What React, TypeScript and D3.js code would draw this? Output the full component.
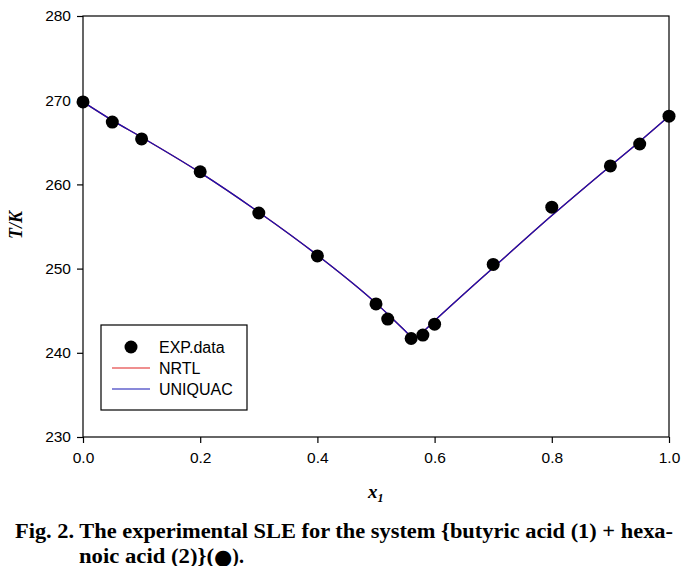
import { useEffect, useRef } from "react";
import * as d3 from "d3";

// experimental SLE points
const expX = [0.0, 0.05, 0.1, 0.2, 0.3, 0.4, 0.5, 0.52, 0.56, 0.58, 0.6, 0.7, 0.8, 0.9, 0.95, 1.0];
const expT = [269.8, 267.4, 265.4, 261.5, 256.6, 251.5, 245.8, 244.0, 241.7, 242.1, 243.4, 250.5, 257.3, 262.2, 264.8, 268.1];

// model curves (NRTL and UNIQUAC almost coincide)
const modelX = [0.0, 0.05, 0.1, 0.2, 0.3, 0.4, 0.5, 0.52, 0.55, 0.565, 0.58, 0.6, 0.7, 0.8, 0.9, 0.95, 1.0];
const nrtlT = [269.8, 267.6, 265.6, 261.4, 256.7, 251.6, 245.9, 244.6, 242.6, 241.7, 242.5, 243.8, 250.1, 256.3, 262.2, 265.1, 268.1];
const uniquacT = [269.8, 267.6, 265.6, 261.4, 256.7, 251.6, 245.9, 244.6, 242.6, 241.7, 242.5, 243.8, 250.1, 256.3, 262.2, 265.1, 268.1];

const xTicks = [0, 0.2, 0.4, 0.6, 0.8, 1.0];
const yTicks = [230, 240, 250, 260, 270, 280];

const legendItems = [
  { label: "EXP.data", kind: "dot", color: "#000" },
  { label: "NRTL", kind: "line", color: "#e02020" },
  { label: "UNIQUAC", kind: "line", color: "#1414b4" },
];

export default function App() {
  const svgRef = useRef<SVGSVGElement>(null);

  useEffect(() => {
    if (!svgRef.current) return;
    const width = 699;
    const height = 574;
    const margin = { top: 16, right: 30, bottom: 137, left: 83 };
    const innerW = width - margin.left - margin.right;
    const innerH = height - margin.top - margin.bottom;

    const svg = d3.select(svgRef.current);
    svg.selectAll("*").remove();
    svg.attr("width", width).attr("height", height);

    const g = svg.append("g").attr("transform", `translate(${margin.left},${margin.top})`);

    const x = d3.scaleLinear().domain([0, 1]).range([0, innerW]);
    const y = d3.scaleLinear().domain([230, 280]).range([innerH, 0]);

    const font = "Liberation Sans, Arial, sans-serif";
    const serif = "Liberation Serif, Times New Roman, serif";

    // frame
    g.append("rect")
      .attr("width", innerW)
      .attr("height", innerH)
      .attr("fill", "none")
      .attr("stroke", "#000")
      .attr("stroke-width", 1.2);

    const xAxis = g
      .append("g")
      .attr("transform", `translate(0,${innerH})`)
      .call(d3.axisBottom(x).tickValues(xTicks).tickSize(6).tickPadding(9).tickFormat(d3.format(".1f")));
    const yAxis = g
      .append("g")
      .call(d3.axisLeft(y).tickValues(yTicks).tickSize(6).tickPadding(6).tickFormat(d3.format("d")));
    [xAxis, yAxis].forEach((a) => {
      a.select(".domain").remove();
      a.selectAll("line").attr("stroke", "#000").attr("stroke-width", 1.2);
      a.selectAll("text").attr("font-family", font).attr("font-size", "15.5px").attr("fill", "#000");
    });

    const line = d3
      .line<number>()
      .x((_, i) => x(modelX[i]))
      .y((d) => y(d))
      .curve(d3.curveMonotoneX);

    g.append("path")
      .datum(nrtlT)
      .attr("d", line)
      .attr("fill", "none")
      .attr("stroke", "#e02020")
      .attr("stroke-width", 1.3);
    g.append("path")
      .datum(uniquacT)
      .attr("d", line)
      .attr("fill", "none")
      .attr("stroke", "#1414b4")
      .attr("stroke-width", 1.3);

    g.selectAll("circle.exp")
      .data(expT)
      .join("circle")
      .attr("class", "exp")
      .attr("cx", (_, i) => x(expX[i]))
      .attr("cy", (d) => y(d))
      .attr("r", 6.5)
      .attr("fill", "#000");

    // legend
    const legend = svg.append("g").attr("transform", "translate(101,325)");
    legend
      .append("rect")
      .attr("width", 146)
      .attr("height", 85)
      .attr("fill", "#fff")
      .attr("stroke", "#000")
      .attr("stroke-width", 1.2);
    legendItems.forEach((item, i) => {
      const cy = 22 + i * 21;
      if (item.kind === "dot") {
        legend.append("circle").attr("cx", 30).attr("cy", cy).attr("r", 6.5).attr("fill", item.color);
      } else {
        legend
          .append("line")
          .attr("x1", 11)
          .attr("x2", 49)
          .attr("y1", cy)
          .attr("y2", cy)
          .attr("stroke", item.color)
          .attr("stroke-width", 1.2);
      }
      legend
        .append("text")
        .attr("x", 58)
        .attr("y", cy + 5.5)
        .attr("font-family", font)
        .attr("font-size", "16px")
        .attr("fill", "#000")
        .text(item.label);
    });

    // axis titles
    svg
      .append("text")
      .attr("transform", "translate(22,225) rotate(-90)")
      .attr("text-anchor", "middle")
      .attr("font-family", serif)
      .attr("font-weight", "bold")
      .attr("font-style", "italic")
      .attr("font-size", "18px")
      .text("T/K");

    const xt = svg
      .append("text")
      .attr("x", 368)
      .attr("y", 498)
      .attr("font-family", serif)
      .attr("font-weight", "bold")
      .attr("font-style", "italic")
      .attr("font-size", "19px");
    xt.append("tspan").text("x");
    xt.append("tspan").attr("dy", 4).attr("font-size", "12px").text("1");

    // caption
    const cap = (xx: number, yy: number) =>
      svg
        .append("text")
        .attr("x", xx)
        .attr("y", yy)
        .attr("font-family", serif)
        .attr("font-weight", "bold")
        .attr("font-size", "20px");
    cap(15, 538)
      .attr("textLength", 658)
      .attr("lengthAdjust", "spacingAndGlyphs")
      .text("Fig. 2. The experimental SLE for the system {butyric acid (1) + hexa-");
    const c2 = cap(79, 563);
    c2.append("tspan").attr("textLength", 135).attr("lengthAdjust", "spacingAndGlyphs").text("noic acid (2)}(");
    c2.append("tspan").attr("font-family", "DejaVu Sans, sans-serif").attr("font-size", "21px").attr("dy", 1).text("\u25CF");
    c2.append("tspan").attr("dy", -1).text(").");
  }, []);

  return (
    <div style={{ margin: -8 }}>
      <svg ref={svgRef} style={{ display: "block" }} />
    </div>
  );
}
